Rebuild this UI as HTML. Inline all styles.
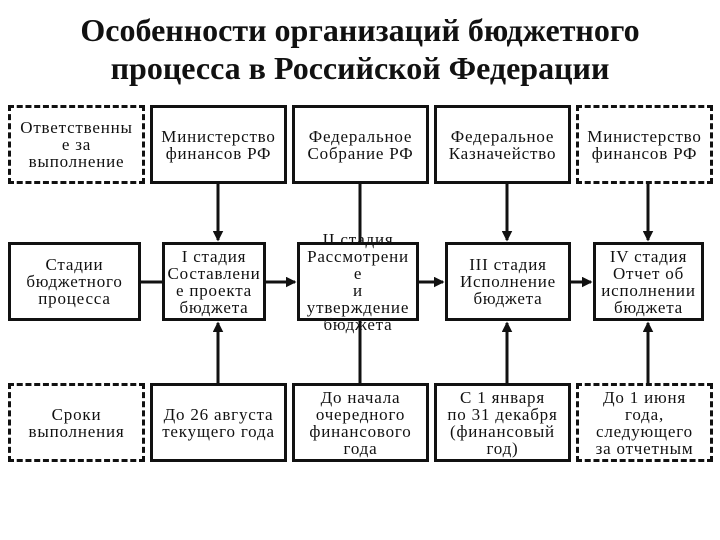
<!DOCTYPE html>
<html><head><meta charset="utf-8"><style>
body{margin:0;width:720px;height:540px;background:#fff;position:relative;overflow:hidden;font-family:"Liberation Serif",serif;color:#111}
.t{position:absolute;left:0;width:720px;text-align:center;font-weight:bold;font-size:32px;line-height:38px}
.b{position:absolute;box-sizing:border-box;border:3px solid #111;display:flex;align-items:center;justify-content:center;text-align:center;font-size:17px;letter-spacing:0.8px;line-height:17px;background:#fff;white-space:nowrap}
.d{border:3px dashed #111}
.o{overflow:visible;background:transparent}
svg{position:absolute;left:0;top:0}
</style></head><body>
<div class="t" style="top:11px">Особенности организаций бюджетного<br>процесса в Российской Федерации</div>
<svg width="720" height="540">
<defs><marker id="a" markerWidth="3.5" markerHeight="3.5" refX="3" refY="1.75" orient="auto" markerUnits="strokeWidth"><path d="M0,0 L3.5,1.75 L0,3.5 z" fill="#111"/></marker></defs>
<g stroke="#111" stroke-width="3" fill="none">
<line x1="218" y1="184" x2="218" y2="240" marker-end="url(#a)"/>
<line x1="218" y1="383" x2="218" y2="323" marker-end="url(#a)"/>
<line x1="360" y1="184" x2="360" y2="242"/>
<line x1="360" y1="320" x2="360" y2="383"/>
<line x1="507" y1="184" x2="507" y2="240" marker-end="url(#a)"/>
<line x1="507" y1="383" x2="507" y2="323" marker-end="url(#a)"/>
<line x1="648" y1="184" x2="648" y2="240" marker-end="url(#a)"/>
<line x1="648" y1="383" x2="648" y2="323" marker-end="url(#a)"/>
<line x1="140" y1="282" x2="162" y2="282"/>
<line x1="265" y1="282" x2="295" y2="282" marker-end="url(#a)"/>
<line x1="418" y1="282" x2="443" y2="282" marker-end="url(#a)"/>
<line x1="570" y1="282" x2="591" y2="282" marker-end="url(#a)"/>
</g></svg>
<div class="b d" style="left:8px;top:105px;width:137px;height:79px">Ответственны<br>е за<br>выполнение</div>
<div class="b" style="left:150px;top:105px;width:137px;height:79px">Министерство<br>финансов РФ</div>
<div class="b" style="left:292px;top:105px;width:137px;height:79px">Федеральное<br>Собрание РФ</div>
<div class="b" style="left:434px;top:105px;width:137px;height:79px">Федеральное<br>Казначейство</div>
<div class="b d" style="left:576px;top:105px;width:137px;height:79px">Министерство<br>финансов РФ</div>

<div class="b" style="left:8px;top:242px;width:133px;height:79px">Стадии<br>бюджетного<br>процесса</div>
<div class="b o" style="left:162px;top:242px;width:104px;height:79px;background:#fff">I стадия<br>Составлени<br>е проекта<br>бюджета</div>
<div class="b o" style="left:297px;top:242px;width:122px;height:79px">II стадия<br>Рассмотрени<br>е<br>и<br>утверждение<br>бюджета</div>
<div class="b" style="left:445px;top:242px;width:126px;height:79px">III стадия<br>Исполнение<br>бюджета</div>
<div class="b" style="left:593px;top:242px;width:111px;height:79px">IV стадия<br>Отчет об<br>исполнении<br>бюджета</div>

<div class="b d" style="left:8px;top:383px;width:137px;height:79px">Сроки<br>выполнения</div>
<div class="b" style="left:150px;top:383px;width:137px;height:79px">До 26 августа<br>текущего года</div>
<div class="b" style="left:292px;top:383px;width:137px;height:79px">До начала<br>очередного<br>финансового<br>года</div>
<div class="b" style="left:434px;top:383px;width:137px;height:79px">С 1 января<br>по 31 декабря<br>(финансовый<br>год)</div>
<div class="b d" style="left:576px;top:383px;width:137px;height:79px">До 1 июня<br>года,<br>следующего<br>за отчетным</div>
</body></html>
